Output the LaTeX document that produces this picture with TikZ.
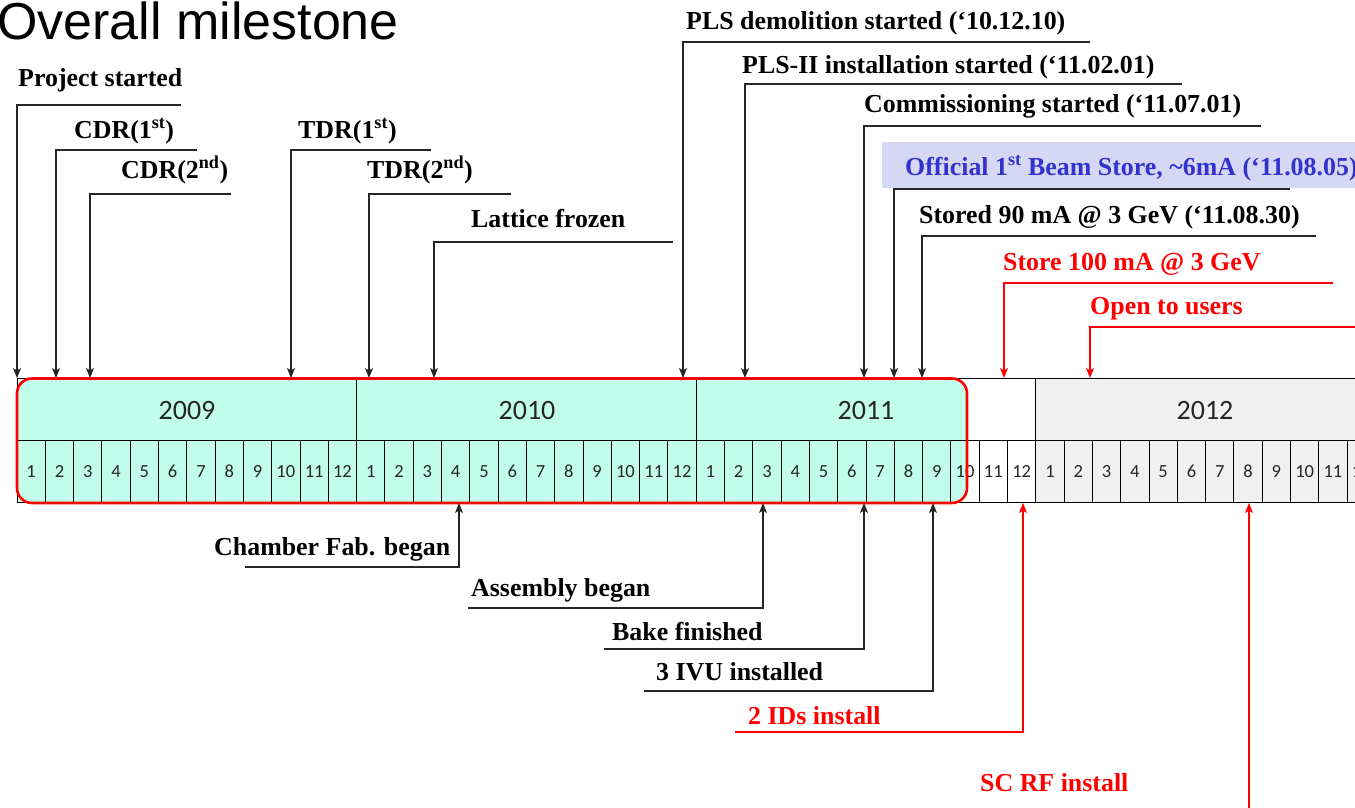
\documentclass[tikz,border=0pt]{standalone}
\usepackage{fontspec}
\setmainfont{Liberation Serif}
\newfontfamily\titlefont{Liberation Sans}
\newfontfamily\cellfont[Numbers=Lining]{Carlito}
\usetikzlibrary{arrows.meta}
\definecolor{cellcyan}{RGB}{194,253,236}
\definecolor{cellgray}{RGB}{240,240,240}
\definecolor{boxblue}{RGB}{214,214,245}
\definecolor{textblue}{RGB}{51,51,204}
\definecolor{mred}{RGB}{255,0,0}
\tikzset{
  lbl/.style={anchor=base west, inner sep=0pt, font=\fontsize{25.9}{30}\selectfont\bfseries},
  redlbl/.style={lbl, text=mred},
  conn/.style={draw=black!85, line width=1.1pt, -{Stealth[length=10pt,width=8pt,inset=2.5pt]}},
  redconn/.style={conn, draw=mred},
  grid/.style={draw=black, line width=0.9pt},
  yearlbl/.style={anchor=base, font=\cellfont\fontsize{28}{30}\selectfont, text=black!85, inner sep=0pt},
  monthlbl/.style={anchor=base, font=\cellfont\fontsize{18.5}{20}\selectfont, text=black!85, inner sep=0pt},
}
\begin{document}
\begin{tikzpicture}[x=1pt,y=-1pt]
\useasboundingbox (0,0) rectangle (1355,808);
% title
\node[anchor=base west, inner sep=0pt, font=\titlefont\fontsize{52}{60}\selectfont] (title) at (-3,40) {Overall milestone};

% timeline fills
\fill[cellgray] (1035.8,378) rectangle (1380,502);
\fill[cellcyan, rounded corners=15pt] (17,378.5) rectangle (967,503);
% grid
\draw[grid] (1380,378) -- (17,378) -- (17,502) -- (1380,502);
\draw[grid] (17,440) -- (1380,440);
\foreach \i in {12,24,36} { \draw[grid] ({17+28.3*\i},378) -- ({17+28.3*\i},440); }
\foreach \i in {1,...,48} { \draw[grid] ({17+28.3*\i},440) -- ({17+28.3*\i},502); }
% year labels
\node[yearlbl] (y2009) at (187,419) {2009};
\node[yearlbl] (y2010) at (527,419) {2010};
\node[yearlbl] (y2011) at (866,419) {2011};
\node[yearlbl] (y2012) at (1205,419) {2012};
% month labels
\foreach \i in {0,...,47} {
  \pgfmathsetmacro\xc{17+28.3*(\i+0.5)}
  \pgfmathtruncatemacro\mm{mod(\i,12)+1}
  \node[monthlbl] (m\i) at (\xc,477) {\mm};
}
% red rounded frame
\draw[mred, line width=2.6pt, rounded corners=15pt] (17,378.5) rectangle (967,503);

% timeline targets (top y=378, bottom y=503)
\foreach \n/\x in {proj/17, cdra/56, cdrb/90, tdra/291, tdrb/369, latt/434, pls/683, plsb/745, comm/864, offi/894, stor/922, sto/1004, open/1090}
  { \coordinate (T\n) at (\x,378); }
\foreach \n/\x in {cham/459, asse/763, bake/864, ivu/933, ids/1023, scrf/1249}
  { \coordinate (B\n) at (\x,503); }

% top labels
\node[lbl] (Lproj) at (18,86) {Project started};
\node[lbl] (Lcdra) at (74,138) {CDR(1\textsuperscript{st})};
\node[lbl] (Lcdrb) at (121,178) {CDR(2\textsuperscript{nd})};
\node[lbl] (Ltdra) at (298,138) {TDR(1\textsuperscript{st})};
\node[lbl] (Ltdrb) at (367,178) {TDR(2\textsuperscript{nd})};
\node[lbl] (Llatt) at (471,227) {Lattice frozen};
\node[lbl] (Lpls) at (686,30) {PLS demolition started (‘10.12.10)};
\node[lbl] (Lplsb) at (742,74) {PLS-II installation started (‘11.02.01)};
\node[lbl] (Lcomm) at (864,112) {Commissioning started (‘11.07.01)};
\fill[boxblue] (882,142) rectangle (1380,188);
\node[lbl, text=textblue] (Loffi) at (905,175) {Official 1\textsuperscript{st} Beam Store, \textasciitilde6mA (‘11.08.05)};
\node[lbl] (Lstor) at (919,223) {Stored 90 mA @ 3 GeV (‘11.08.30)};
\node[redlbl] (Lsto) at (1003,270) {Store 100 mA @ 3 GeV};
\node[redlbl] (Lopen) at (1090,314) {Open to users};

% top line ends
\coordinate (Eproj) at (181,105);
\coordinate (Ecdra) at (197,150);
\coordinate (Ecdrb) at (231,194);
\coordinate (Etdra) at (431,150);
\coordinate (Etdrb) at (511,194);
\coordinate (Elatt) at (673,242);
\coordinate (Epls) at (1090,42);
\coordinate (Eplsb) at (1182,84);
\coordinate (Ecomm) at (1261,126);
\coordinate (Eoffi) at (1290,189);
\coordinate (Estor) at (1316,236);
\coordinate (Esto) at (1333,283);
\coordinate (Eopen) at (1360,327);

\foreach \n in {proj,cdra,cdrb,tdra,tdrb,latt,pls,plsb,comm,offi,stor}
  { \draw[conn] (E\n) -| (T\n); }
\draw[redconn] (Esto) -| (Tsto);
\draw[redconn] (Eopen) -| (Topen);

% bottom labels
\node[lbl] (Lcham) at (214,555) {Chamber Fab. began};
\node[lbl] (Lasse) at (471,596) {Assembly began};
\node[lbl] (Lbake) at (612,640) {Bake finished};
\node[lbl] (Livu) at (656,680) {3 IVU installed};
\node[redlbl] (Lids) at (748,724) {2 IDs install};
\node[redlbl] (Lscrf) at (980,791) {SC RF install};

\coordinate (Scham) at (245,567);
\coordinate (Sasse) at (468,608);
\coordinate (Sbake) at (604,649);
\coordinate (Sivu) at (644,691);
\coordinate (Sids) at (735,732);
\coordinate (Sscrf) at (1249,820);

\foreach \n in {cham,asse,bake,ivu}
  { \draw[conn] (S\n) -| (B\n); }
\draw[redconn] (Sids) -| (Bids);
\draw[redconn] (Sscrf) -- (Bscrf);
\end{tikzpicture}
\end{document}
